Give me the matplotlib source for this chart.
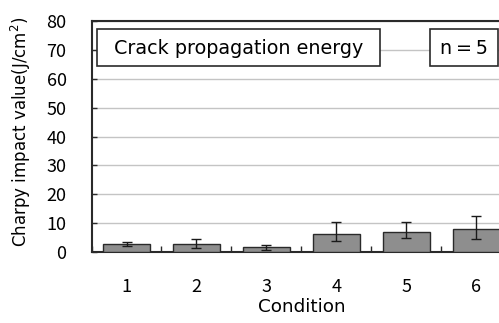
import matplotlib
matplotlib.use("Agg")
import matplotlib.pyplot as plt
from matplotlib.patches import Rectangle
import numpy as np

plt.rcParams['font.family'] = ['Noto Sans CJK JP', 'DejaVu Sans']
plt.rcParams['mathtext.fontset'] = 'dejavusans'
TXT_FONT = ['DejaVu Sans', 'Noto Sans CJK JP']

conditions = ["1", "2", "3", "4", "5", "6"]
values = [2.9, 2.9, 1.85, 6.4, 6.9, 7.85]
err_low = [0.9, 1.6, 1.0, 2.5, 2.05, 3.45]
err_high = [0.6, 1.5, 0.7, 4.0, 3.5, 4.55]
y_ticks = [0, 10, 20, 30, 40, 50, 60, 70, 80]
title_text = "Crack propagation energy"
n_text = "n\u2009=\u20095"
ylabel_text = "Charpy impact value(J/cm$^{2}$)"
xlabel_text = "Condition"

W, H = 499, 323
fig = plt.figure(figsize=(W / 100, H / 100), dpi=100)
left_px, right_px, top_px, bot_px = 91.5, 511.5, 21, 252
ax = fig.add_axes([left_px / W, 1 - bot_px / H, (right_px - left_px) / W, (bot_px - top_px) / H])
ax.patch.set_alpha(0)

x = np.arange(1, len(conditions) + 1)
ax.bar(x, values, width=0.667, color='#8e8e8e', edgecolor='#2a2a2a', linewidth=1.0, zorder=3)
ax.errorbar(x, values, yerr=[err_low, err_high], fmt='none', ecolor='#1a1a1a',
            elinewidth=1.0, capsize=3.8, capthick=1.0, zorder=4)

ax.set_xlim(0.5, len(conditions) + 0.5)
ax.set_ylim(0, 80)
ax.set_yticks(y_ticks)
ax.set_yticklabels([str(v) for v in y_ticks], fontsize=13)
ax.yaxis.grid(True, color='#c4c4c4', linewidth=1.0, zorder=0)
ax.set_axisbelow(True)

ax.set_xticks(x)
ax.set_xticklabels(conditions, fontsize=13)
ax.set_xticks(np.arange(0.5, len(conditions) + 1, 1.0), minor=True)
ax.tick_params(axis='x', which='major', length=0, pad=19)
ax.tick_params(axis='x', which='minor', direction='in', length=4.5, width=1.0, color='#2a2a2a')
ax.tick_params(axis='y', direction='in', length=3.6, width=1.0, color='#2a2a2a', pad=18)

for s in ax.spines.values():
    s.set_color('#2a2a2a')
    s.set_linewidth(1.5)

ax.set_xlabel(xlabel_text, fontsize=13.2, labelpad=1, family=TXT_FONT)
fig.text(21 / W, 1 - 131.5 / H, ylabel_text, rotation=90, ha='center', va='center',
         fontsize=12, family=TXT_FONT)

for (x0, x1, txt) in [(0.013, 0.687, title_text), (0.806, 0.968, n_text)]:
    y0, y1 = 0.805, 0.965
    ax.add_patch(Rectangle((x0, y0), x1 - x0, y1 - y0, transform=ax.transAxes,
                           facecolor='white', edgecolor='#2a2a2a', linewidth=1.2,
                           zorder=5, clip_on=False))
    ax.text((x0 + x1) / 2, (y0 + y1) / 2 - 0.005, txt, transform=ax.transAxes, ha='center',
            va='center', fontsize=13.8, zorder=6, family=TXT_FONT)

fig.savefig("out.png", dpi=100)
